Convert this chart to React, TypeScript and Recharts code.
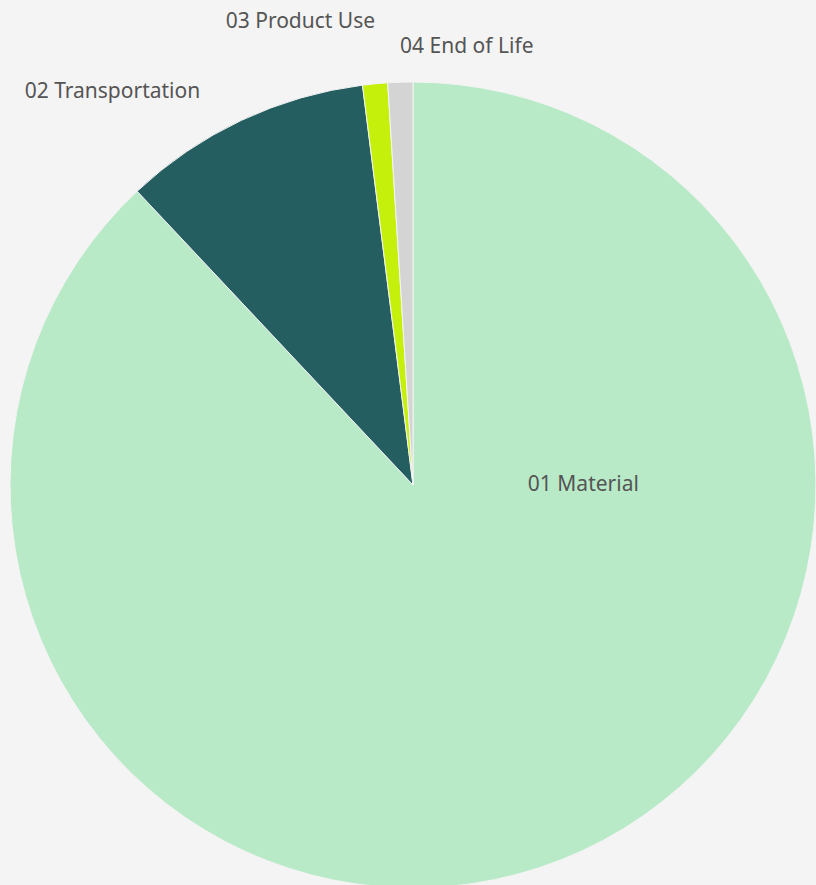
import React from "react";
import { PieChart, Pie, Cell } from "recharts";

const categories = ["01 Material", "02 Transportation", "03 Product Use", "04 End of Life"];
const values = [88, 10, 1, 1];
const colors = ["#b8eac8", "#245e60", "#c5f00c", "#d4d4d4"];

const data = categories.map((name, i) => ({ name, value: values[i] }));

// label offsets relative to centre, as fractions of the outer radius
const labelPos = [
  { dx: 0.285, dy: -0.005, anchor: "start" },
  { dx: -0.528, dy: -0.98, anchor: "end" },
  { dx: -0.094, dy: -1.154, anchor: "end" },
  { dx: -0.032, dy: -1.092, anchor: "start" },
];

const renderLabel = (props: any) => {
  const { cx, cy, outerRadius, index, name } = props;
  const p = labelPos[index];
  return (
    <text
      x={cx + p.dx * outerRadius}
      y={cy + p.dy * outerRadius}
      textAnchor={p.anchor}
      dominantBaseline="central"
      fill="#555555"
      fontSize={21}
      fontFamily="'Noto Sans', 'Open Sans', sans-serif"
    >
      {name}
    </text>
  );
};

export default function App() {
  return (
    <div style={{ position: "absolute", left: 0, top: 0, width: 816, height: 885, background: "#f4f4f4", overflow: "hidden" }}>
      <PieChart width={816} height={885} margin={{ top: 0, right: 0, bottom: 0, left: 0 }}>
        <Pie
          data={data}
          dataKey="value"
          nameKey="name"
          cx={413}
          cy={485}
          outerRadius={403}
          startAngle={90}
          endAngle={-270}
          stroke="#f4f4f4"
          strokeWidth={1}
          label={renderLabel}
          labelLine={false}
          isAnimationActive={false}
        >
          {data.map((d, i) => (
            <Cell key={d.name} fill={colors[i]} />
          ))}
        </Pie>
      </PieChart>
    </div>
  );
}
